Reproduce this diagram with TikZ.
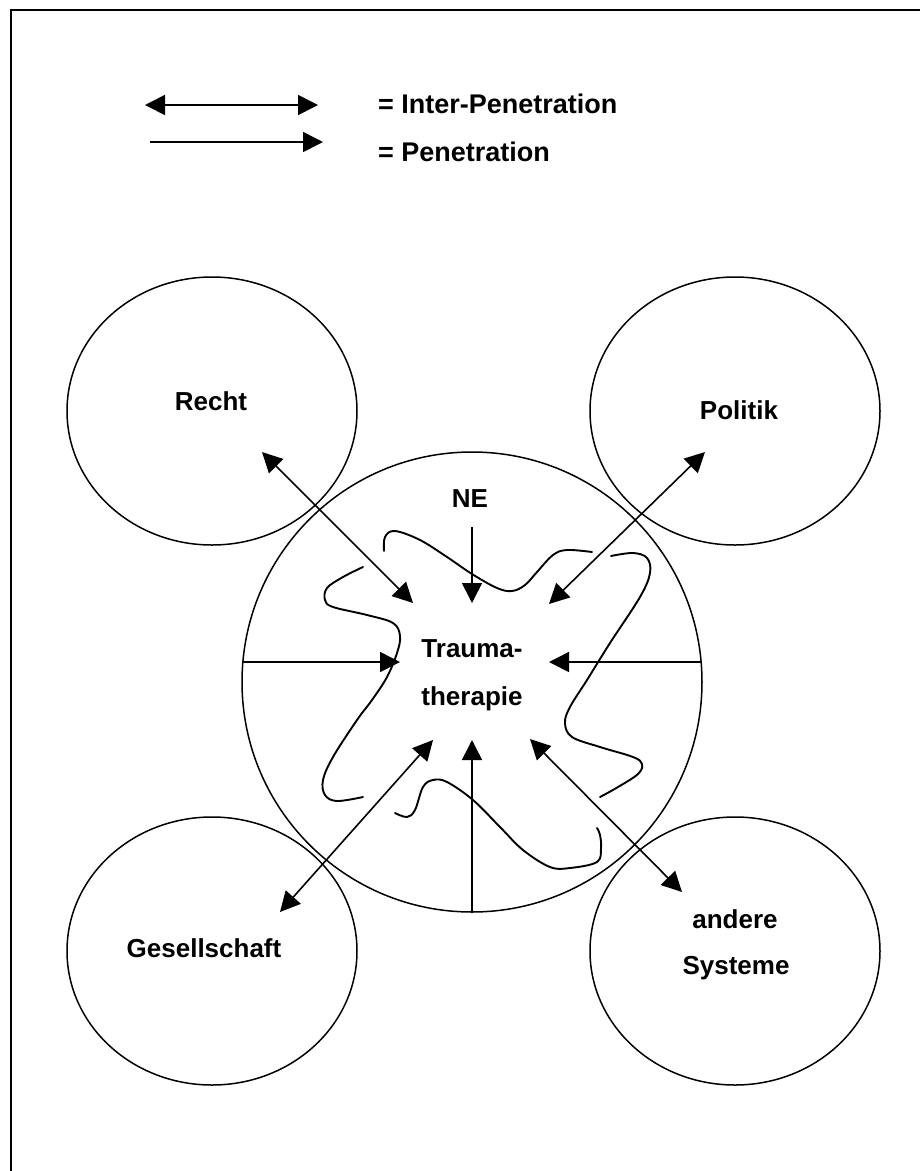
\documentclass[tikz,border=0pt]{standalone}
\usepackage{fontspec}
\setmainfont{Liberation Sans}
\usetikzlibrary{arrows.meta,shapes.geometric}
\tikzset{
  conn/.style={line width=1.6pt, -{Triangle[length=20pt,width=20pt]}},
  dconn/.style={line width=1.6pt, {Triangle[length=20pt,width=20pt]}-{Triangle[length=20pt,width=20pt]}},
  sysc/.style={draw, line width=1.5pt, ellipse, minimum width=290pt, minimum height=268pt, inner sep=0pt},
  wave/.style={line width=1.9pt, line cap=round},
  lbl/.style={font=\bfseries\fontsize{26}{30}\selectfont, inner sep=0pt, anchor=base},
  lgd/.style={font=\bfseries\fontsize{27}{30}\selectfont, inner sep=0pt, anchor=base west}
}
\begin{document}
\begin{tikzpicture}[x=1pt,y=-1pt]
\useasboundingbox (0,0) rectangle (920,1171);
% frame (left and top only)
\draw[line width=2pt] (10.5,1171) -- (10.5,9.5) -- (920,9.5);

% legend
\coordinate (l1a) at (145,105);
\coordinate (l1b) at (318,105);
\coordinate (l2a) at (150,142);
\coordinate (l2b) at (323,142);
\draw[dconn] (l1a) -- (l1b);
\draw[conn] (l2a) -- (l2b);
\node[lgd] (leg1) at (378,113) {= Inter-Penetration};
\node[lgd] (leg2) at (378,161) {= Penetration};

% systems
\node[sysc] (recht) at (212,411) {};
\node[sysc] (politik) at (735,411) {};
\node[sysc] (gesell) at (212,951) {};
\node[sysc] (andere) at (735,951) {};
\node[draw, circle, line width=1.5pt, minimum size=460pt, inner sep=0pt] (big) at (472,682) {};

% labels
\node[lbl] (trecht) at (211,410) {Recht};
\node[lbl] (tpolitik) at (739,419) {Politik};
\node[lbl] (tgesell) at (204,957) {Gesellschaft};
\node[lbl] (tandere1) at (735,928) {andere};
\node[lbl] (tandere2) at (736,974) {Systeme};
\node[lbl] (tne) at (470,507) {NE};
\node[lbl] (ttrauma1) at (472,657) {Trauma-};
\node[lbl] (ttrauma2) at (472,705) {therapie};

% wavy boundary of the system
\draw[wave] plot[smooth, tension=0.6] coordinates {(384,551) (385,537) (395,531) (420,540) (447,557) (472,574) (497,588) (512,591) (525,585) (537,572) (553,555) (567,550) (592,552)};
\draw[wave] plot[smooth, tension=0.6] coordinates {(611,556) (633,553) (647,558) (650,573) (640,597) (610,643) (587,680) (570,707) (565,723) (572,737) (600,747) (633,757) (642,764) (638,774) (618,787) (600,797)};
\draw[wave] plot[smooth, tension=0.6] coordinates {(363,567) (343,577) (327,588) (325,600) (333,607) (367,615) (393,623) (400,636) (397,653) (387,677) (372,700) (357,720) (333,757) (323,780) (325,795) (337,801) (363,797)};
\draw[wave] plot[smooth, tension=0.6] coordinates {(395,813) (407,817) (415,810) (423,787) (433,780) (447,782) (473,800) (500,827) (523,850) (550,867) (570,868) (597,862) (601,848) (600,835) (597,828)};

% arrow end points
\coordinate (rechtTip) at (262,452);
\coordinate (politikTip) at (705,452);
\coordinate (gesellTip) at (280,912);
\coordinate (andereTip) at (682,892);
\coordinate (cNW) at (413,603);
\coordinate (cN) at (472,603);
\coordinate (cNE) at (549,604);
\coordinate (cW) at (400,662);
\coordinate (cE) at (549,662);
\coordinate (cSW) at (433,740);
\coordinate (cS) at (472,740);
\coordinate (cSE) at (530,739);
\coordinate (neStart) at (472,527);
\coordinate (wStart) at (243,662);
\coordinate (eStart) at (701,662);

% connectors
\draw[dconn] (rechtTip) -- (cNW);
\draw[dconn] (politikTip) -- (cNE);
\draw[dconn] (gesellTip) -- (cSW);
\draw[dconn] (andereTip) -- (cSE);
\draw[conn] (neStart) -- (cN);
\draw[conn] (wStart) -- (cW);
\draw[conn] (eStart) -- (cE);
\draw[conn] (big.south) -- (cS);
\end{tikzpicture}
\end{document}
